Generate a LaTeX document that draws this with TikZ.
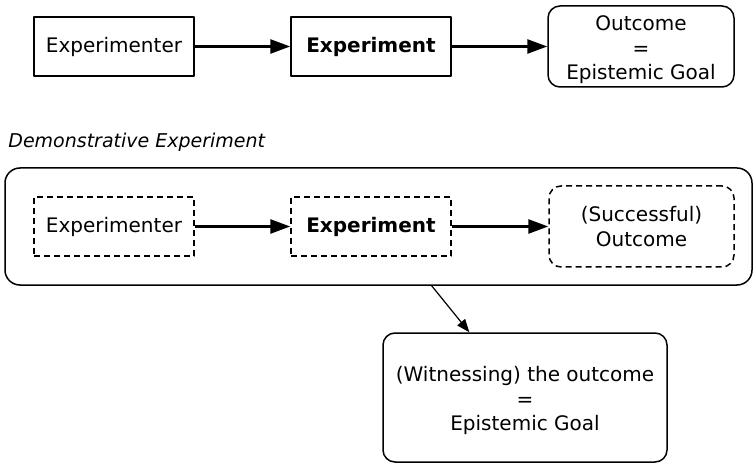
\documentclass[tikz,border=0pt]{standalone}
\usepackage{fontspec}
\setmainfont{DejaVu Sans}
\usetikzlibrary{arrows.meta,calc}

\begin{document}
\begin{tikzpicture}[x=0.5pt,y=-0.5pt,line join=round,
  font=\fontsize{10}{12.25}\selectfont,
  >={Triangle[length=10pt,width=7pt]},
  box/.style={draw,line width=0.75pt,inner sep=0pt,align=center,minimum width=80pt,minimum height=29.5pt},
  dashbox/.style={box,dash pattern=on 3pt off 2pt},
  goalbox/.style={box,rounded corners=6pt,minimum width=93pt,minimum height=40.5pt},
  flow/.style={->,line width=1.3pt}]
\useasboundingbox (0,0) rectangle (753,464);
% plain experiment
\node[box] (exper1) at (114,46.5) {Experimenter};
\node[box] (expmt1) at (371,46.5) {\textbf{Experiment}};
\node[goalbox] (goal1) at (641,46.5) {\rule{0pt}{11pt}Outcome\\=\\Epistemic Goal};
\draw[flow] (exper1) -- (expmt1);
\draw[flow] (expmt1) -- (goal1);
% demonstrative experiment
\node[anchor=west,inner sep=0pt,font=\fontsize{9.5}{12}\selectfont\itshape] (title) at (8,142) {Demonstrative Experiment};
\node[box,rounded corners=7.5pt,minimum width=373.5pt,minimum height=58.5pt] (demo) at (378.5,226.5) {};
\node[dashbox] (exper2) at (114,226.5) {Experimenter};
\node[dashbox] (expmt2) at (371,226.5) {\textbf{Experiment}};
\node[dashbox,rounded corners=6pt,minimum width=92.5pt,minimum height=40.5pt] (outc2) at (641.5,226.5) {(Successful)\\Outcome};
\draw[flow] (exper2) -- (expmt2);
\draw[flow] (expmt2) -- (outc2);
% witnessing
\node[goalbox,minimum width=142pt,minimum height=64.5pt] (witness) at (525,397.5) {\rule{0pt}{11pt}(Witnessing) the outcome\\=\\Epistemic Goal};
\coordinate (from) at ($(demo.south west)!0.571!(demo.south east)$);
\coordinate (to) at ($(witness.north west)!0.305!(witness.north east)$);
\draw[-{Triangle[length=6.5pt,width=5pt]},line width=0.6pt] (from) -- (to);
\end{tikzpicture}
\end{document}
